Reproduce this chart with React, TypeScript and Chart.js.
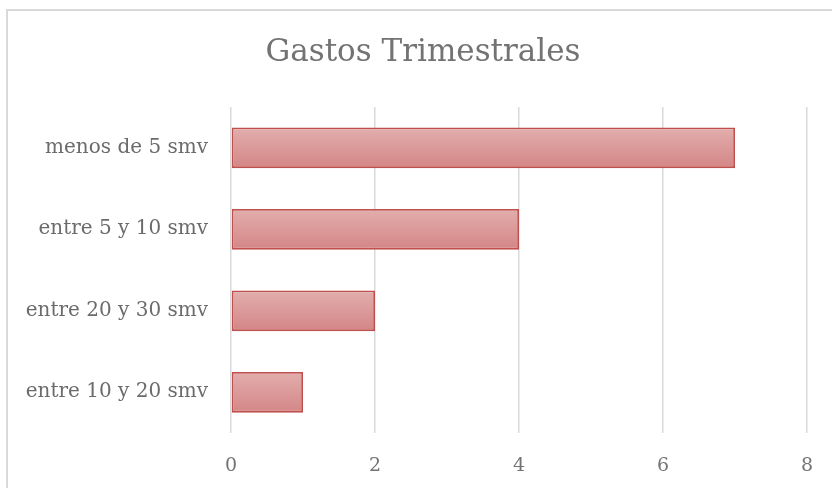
import React, { useEffect, useRef } from "react";
import { Chart, registerables } from "chart.js";

Chart.register(...registerables);

const categories = ["menos de 5 smv", "entre 5 y 10 smv", "entre 20 y 30 smv", "entre 10 y 20 smv"];
const values = [7, 4, 2, 1];
const titleText = "Gastos Trimestrales";
const xMin = 0;
const xMax = 8;
const xStep = 2;

const FONT = "'DejaVu Serif', serif";

const titlePlugin = {
  id: "offsetTitle",
  afterDraw(chart: any) {
    const ctx = chart.ctx;
    ctx.save();
    ctx.font = `normal 31px ${FONT}`;
    ctx.fillStyle = "#737373";
    ctx.textAlign = "center";
    ctx.textBaseline = "middle";
    ctx.fillText(titleText, 423, 53);
    ctx.restore();
  },
};

export default function App() {
  const ref = useRef<HTMLCanvasElement | null>(null);

  useEffect(() => {
    if (!ref.current) return;
    const chart = new Chart(ref.current, {
      type: "bar",
      data: {
        labels: categories,
        datasets: [
          {
            data: values,
            backgroundColor: (ctx: any) => {
              const c = ctx.chart;
              const ys = c.scales && c.scales.y;
              if (!ys || ctx.type !== "data") return "#d99696";
              const center = ys.getPixelForValue(ctx.dataIndex);
              if (!isFinite(center)) return "#d99696";
              const h = 42;
              const g = c.ctx.createLinearGradient(0, center - h / 2, 0, center + h / 2);
              g.addColorStop(0, "#e2afae");
              g.addColorStop(1, "#d48585");
              return g;
            },
            borderColor: "#c0504d",
            borderWidth: 1.8,
            borderSkipped: false,
            barPercentage: 0.5,
            categoryPercentage: 1,
          },
        ],
      },
      plugins: [titlePlugin],
      options: {
        indexAxis: "y",
        animation: false,
        responsive: false,
        maintainAspectRatio: false,
        layout: { padding: { left: 0, right: 25, top: 107, bottom: 0 } },
        plugins: {
          legend: { display: false },
          tooltip: { enabled: false },
          title: { display: false },
        },
        scales: {
          x: {
            min: xMin,
            max: xMax,
            ticks: {
              stepSize: xStep,
              color: "#737373",
              font: { family: FONT, size: 19 },
              padding: 22,
            },
            grid: { color: "#d9d9d9", lineWidth: 1.5, drawTicks: false },
            border: { display: false },
            afterFit: (s: any) => {
              s.height = 55;
              s.paddingRight = 0;
              s.paddingLeft = 0;
            },
          },
          y: {
            ticks: {
              color: "#6b6b6b",
              font: { family: FONT, size: 20 },
              padding: 15,
            },
            grid: { display: false },
            border: { display: false },
            afterFit: (s: any) => {
              s.width = 231;
            },
          },
        },
      },
    });
    return () => chart.destroy();
  }, []);

  return (
    <div style={{ position: "fixed", left: 0, top: 0, width: 832, height: 488, background: "#fff", overflow: "hidden" }}>
      <canvas ref={ref} width={832} height={488} style={{ position: "absolute", left: 0, top: 0 }} />
      <div
        style={{
          position: "absolute",
          left: 6,
          top: 9,
          width: 900,
          height: 600,
          borderTop: "2px solid #d9d9d9",
          borderLeft: "2px solid #d9d9d9",
          pointerEvents: "none",
        }}
      />
    </div>
  );
}
